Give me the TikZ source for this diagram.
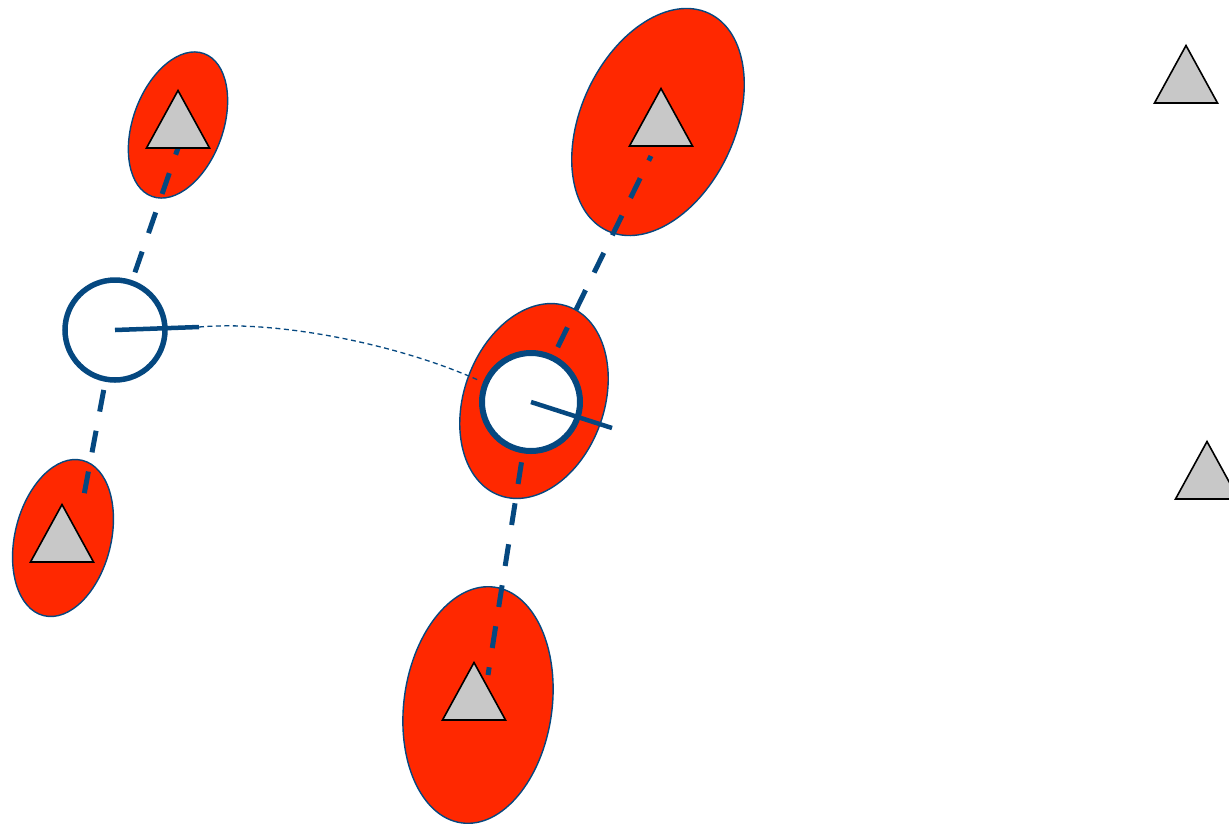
\documentclass[tikz,border=0pt]{standalone}
\usetikzlibrary{shapes.geometric}
\definecolor{zoneRed}{RGB}{255,40,0}
\definecolor{linkBlue}{RGB}{5,72,128}
\definecolor{markGray}{RGB}{200,200,200}
\tikzset{
  zone/.style={ellipse, draw=linkBlue, line width=1.4pt, fill=zoneRed, inner sep=0pt},
  station/.style={circle, draw=linkBlue, line width=5.5pt, fill=white, minimum size=100pt, inner sep=0pt},
  baseline link/.style={draw=linkBlue, line width=5pt, dash pattern=on 22pt off 19.5pt, dash phase=22pt},
  heading/.style={draw=linkBlue, line width=4.5pt},
  trace/.style={draw=linkBlue, line width=1.3pt, dash pattern=on 5pt off 3.5pt},
  tri/.pic={\draw[fill=markGray, line width=1.6pt, line join=miter] (-31.5,0) -- (0,-57.5) -- (31.5,0) -- cycle;}
}
\begin{document}
\begin{tikzpicture}[x=1pt, y=-1pt]
\useasboundingbox (0,0) rectangle (1229,823);

% error ellipses
\node[zone, minimum width=90pt, minimum height=152pt, rotate=-20] (e1) at (178,125) {};
\node[zone, minimum width=96pt, minimum height=160pt, rotate=-14] (e2) at (63,538) {};
\node[zone, minimum width=154pt, minimum height=240pt, rotate=-25] (e3) at (658,122) {};
\node[zone, minimum width=140pt, minimum height=201pt, rotate=-20] (e4) at (534,401) {};
\node[zone, minimum width=148pt, minimum height=238pt, rotate=-8] (e5) at (478,705) {};

% feet of the marks
\coordinate (t1) at (178,148);
\coordinate (t2) at (62,562);
\coordinate (t3) at (661,146);
\coordinate (t4) at (474,720);
\coordinate (t5) at (1186,103);
\coordinate (t6) at (1207,499);

% station centres
\coordinate (c1) at (115,330);
\coordinate (c2) at (531,402);

% baselines between stations and marks
\draw[baseline link] (c1) -- (178,148) coordinate (l1);
\draw[baseline link] (c1) -- (81,511) coordinate (l2);
\draw[baseline link] (c2) -- (651,156) coordinate (l3);
\draw[baseline link] (c2) -- (488,675) coordinate (l4);

% marks
\pic at (t1) {tri};
\pic at (t2) {tri};
\pic at (t3) {tri};
\pic at (t4) {tri};
\pic at (t5) {tri};
\pic at (t6) {tri};

% stations
\node[station] (s1) at (c1) {};
\node[station, minimum size=98pt, line width=6pt] (s2) at (c2) {};

% heading ticks
\draw[heading] (s1.center) -- (199,327) coordinate (h1);
\draw[heading] (s2.center) -- (612,428) coordinate (h2);

% traverse between the two stations
\coordinate (r2) at (478,380);
\draw[trace] (h1) .. controls (280,320) and (400,345) .. (r2);
\end{tikzpicture}
\end{document}
